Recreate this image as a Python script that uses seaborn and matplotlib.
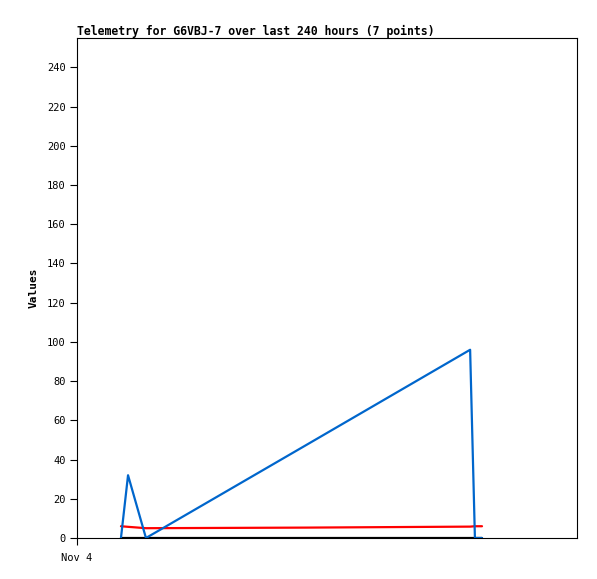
import matplotlib
matplotlib.use("Agg")
import matplotlib.pyplot as plt
import seaborn as sns
import pandas as pd

# hours since the "Nov 4" tick
hours = [21.1, 24.5, 33.1, 110.0, 188.7, 191.0, 194.4]
blue_vals = [0, 32, 0, 47.4, 96, 0, 0]
red_vals = [6.0, 5.7, 5.0, 5.3, 5.8, 6.0, 6.0]
black_vals = [0, 0, 0, 0, 0, 0, 0]
yticks = list(range(0, 241, 20))
xtick_labels = ["Nov 4"]

sns.set_theme(style="white")
plt.rcParams['font.family'] = ['DejaVu Sans Mono', 'DejaVu Sans']
plt.rcParams['text.color'] = 'black'
plt.rcParams['axes.labelcolor'] = 'black'
plt.rcParams['xtick.color'] = 'black'
plt.rcParams['ytick.color'] = 'black'

fig = plt.figure(figsize=(5.97, 5.79), dpi=100)
ax = fig.add_axes([77/597, (579-538)/579, 500/597, 500/579])

df = pd.DataFrame({"h": hours, "blue": blue_vals, "red": red_vals, "black": black_vals})
sns.lineplot(data=df, x="h", y="black", ax=ax, color="black", linewidth=1.6)
sns.lineplot(data=df, x="h", y="red", ax=ax, color="#FF0000", linewidth=1.6)
sns.lineplot(data=df, x="h", y="blue", ax=ax, color="#0066CC", linewidth=1.6)

ax.set_xlim(0, 240)
ax.set_ylim(0, 255)
ax.set_yticks(yticks)
ax.set_yticklabels([str(v) for v in yticks], fontsize=7.5)
ax.set_xticks([0])
ax.set_xticklabels(xtick_labels, fontsize=7.5)
ax.tick_params(axis="both", direction="out", length=5, width=0.8, colors="black", left=True, bottom=True, pad=3)
ax.tick_params(axis="x", pad=6)
ax.set_xlabel("")
ax.set_ylabel("Values", fontsize=8, fontweight="bold", labelpad=6)
for s in ax.spines.values():
    s.set_color("black")
    s.set_linewidth(0.8)
ax.set_title("Telemetry for G6VBJ-7 over last 240 hours (7 points)", loc="left",
             fontsize=8.3, fontweight="bold", pad=2, color="black")

fig.savefig("out.png", dpi=100, facecolor="white")
